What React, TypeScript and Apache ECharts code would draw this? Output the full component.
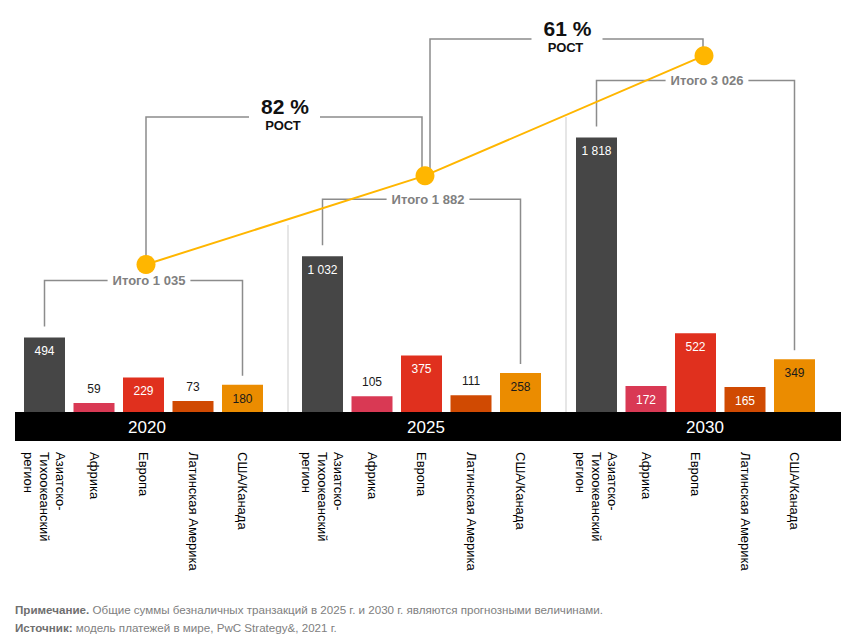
import React, { useEffect, useRef } from "react";
import * as echarts from "echarts";

const regions = ["Азиатско-\nТихоокеанский\nрегион", "Африка", "Европа", "Латинская Америка", "США/Канада"];
const years = ["2020", "2025", "2030"];
const values2020 = [494, 59, 229, 73, 180];
const values2025 = [1032, 105, 375, 111, 258];
const values2030 = [1818, 172, 522, 165, 349];
const totals = [1035, 1882, 3026];
const growth = ["82 %", "61 %"];
const growthWord = "РОСТ";
const totalWord = "Итого";
const noteBold = "Примечание.";
const noteText = " Общие суммы безналичных транзакций в 2025 г. и 2030 г. являются прогнозными величинами.";
const sourceBold = "Источник:";
const sourceText = " модель платежей в мире, PwC Strategy&, 2021 г.";

const colors = ["#464646", "#d93954", "#e0301e", "#d04a02", "#eb8c00"];
const FONT = '"Liberation Sans", Arial, sans-serif';
const valuesByYear = [values2020, values2025, values2030];

const fmt = (v: number) =>
  v >= 1000 ? `${Math.floor(v / 1000)} ${String(v % 1000).padStart(3, "0")}` : String(v);

const gridLefts = [19.75, 297.75, 571.75];

export default function App() {
  const ref = useRef<HTMLDivElement>(null);
  useEffect(() => {
    document.body.style.margin = "0";
    const chart = echarts.init(ref.current!, null, { renderer: "svg" });
    const grids: any[] = gridLefts.map((l) => ({
      left: l, top: 110, width: 247.5, height: 302, outerBoundsMode: "none", containLabel: false,
    }));
    grids.push({ left: 146, top: 6, width: 558, height: 367, outerBoundsMode: "none", containLabel: false });
    const xAxes: any[] = gridLefts.map((_, g) => ({
      type: "category", gridIndex: g, data: regions,
      axisLine: { show: false }, axisTick: { show: false },
      axisLabel: {
        rotate: -90, margin: 40, interval: 0, fontSize: 13, lineHeight: 16,
        color: "#000", fontFamily: FONT,
      },
    }));
    xAxes.push({ type: "category", gridIndex: 3, data: years, boundaryGap: false, show: false });
    const yAxes: any[] = gridLefts.map((_, g) => ({
      type: "value", gridIndex: g, min: 0, max: 2000, show: false, splitLine: { show: false },
    }));
    yAxes.push({ type: "value", gridIndex: 3, min: 0, max: 3500, show: false, splitLine: { show: false } });
    const series: any[] = valuesByYear.map((vals, g) => ({
      type: "bar", xAxisIndex: g, yAxisIndex: g, barWidth: 41,
      data: vals.map((v, i) => {
        const small = v < 150;
        return {
          value: v,
          itemStyle: { color: colors[i] },
          label: {
            show: true,
            position: small ? "top" : "insideTop",
            distance: 8,
            fontSize: 12,
            fontFamily: FONT,
            color: small || i === 4 ? "#1a1a1a" : "#ffffff",
            formatter: (p: any) => fmt(p.value),
          },
        };
      }),
    }));
    series.push({
      type: "line", xAxisIndex: 3, yAxisIndex: 3, data: totals, z: 10,
      symbol: "circle", symbolSize: 19,
      lineStyle: { color: "#ffb600", width: 2 },
      itemStyle: { color: "#ffb600" },
    });
    chart.setOption({
      animation: false,
      backgroundColor: "#ffffff",
      textStyle: { fontFamily: FONT },
      grid: grids, xAxis: xAxes, yAxis: yAxes, series,
    });

    const dot = totals.map((t, i) => chart.convertToPixel({ seriesIndex: 3 }, [i, t]) as number[]);
    const barPt = (g: number, c: number) =>
      chart.convertToPixel({ gridIndex: g }, [c, valuesByYear[g][c]]) as number[];
    const base = (chart.convertToPixel({ gridIndex: 0 }, [0, 0]) as number[])[1];

    const els: any[] = [];
    const stroke = { stroke: "#8c8c8c", lineWidth: 1.5, fill: null };
    // separators
    els.push({ type: "line", z: 1, shape: { x1: 288, y1: 225, x2: 288, y2: base }, style: { stroke: "#dedede", lineWidth: 1.5 } });
    els.push({ type: "line", z: 1, shape: { x1: 566, y1: 117, x2: 566, y2: base }, style: { stroke: "#dedede", lineWidth: 1.5 } });
    // band
    els.push({ type: "rect", z: 3, shape: { x: 15, y: base, width: 826, height: 29 }, style: { fill: "#000" } });
    years.forEach((y, i) => {
      els.push({
        type: "text", z: 4, x: dot[i][0] + 1, y: base + 15,
        style: { text: y, fill: "#fff", fontSize: 17, fontFamily: FONT, align: "center", verticalAlign: "middle" },
      });
    });
    // totals brackets
    for (let g = 0; g < 3; g++) {
      const a = barPt(g, 0);
      const u = barPt(g, 4);
      const yH = a[1] - 57;
      els.push({
        type: "polyline", z: 1,
        shape: { points: [[a[0], a[1] - 11], [a[0], yH], [u[0], yH], [u[0], u[1] - 9]] },
        style: stroke,
      });
      els.push({
        type: "text", z: 2, x: dot[g][0] + 3, y: yH,
        style: {
          text: `${totalWord} ${fmt(totals[g])}`, fill: "#808080", fontSize: 13, fontWeight: "bold",
          fontFamily: FONT, align: "center", verticalAlign: "middle",
          backgroundColor: "#fff", padding: [2, 5],
        },
      });
    }
    // growth brackets
    const gb = [
      { xL: dot[0][0], yL: dot[0][1], xR: dot[1][0] - 3, yR: dot[1][1], y: 117 },
      { xL: dot[1][0] + 5, yL: dot[1][1], xR: dot[2][0] - 1, yR: dot[2][1], y: 39 },
    ];
    gb.forEach((b, i) => {
      els.push({
        type: "polyline", z: 1,
        shape: { points: [[b.xL, b.yL], [b.xL, b.y], [b.xR, b.y], [b.xR, b.yR]] },
        style: stroke,
      });
      const mx = (b.xL + b.xR) / 2 + 1;
      els.push({ type: "rect", z: 2, shape: { x: mx - 36, y: b.y - 22, width: 71, height: 40 }, style: { fill: "#fff" } });
      els.push({
        type: "text", z: 3, x: mx, y: b.y - 11,
        style: { text: growth[i], fill: "#111", fontSize: 21, fontWeight: "bold", fontFamily: FONT, align: "center", verticalAlign: "middle" },
      });
      els.push({
        type: "text", z: 3, x: mx - 2, y: b.y + 8,
        style: { text: growthWord, fill: "#111", fontSize: 13, fontWeight: "bold", fontFamily: FONT, align: "center", verticalAlign: "middle" },
      });
    });
    // footnotes
    [[noteBold, noteText, 609], [sourceBold, sourceText, 627]].forEach(([b, t, y]) => {
      els.push({
        type: "text", z: 3, x: 15, y: y as number,
        style: {
          text: `{b|${b}}{r|${t}}`, verticalAlign: "middle", align: "left",
          rich: {
            b: { fontSize: 11.6, fontWeight: "bold", fill: "#6f6f6f", fontFamily: FONT },
            r: { fontSize: 11.6, fill: "#808080", fontFamily: FONT },
          },
        },
      });
    });
    chart.setOption({ graphic: { elements: els } });
    return () => chart.dispose();
  }, []);
  return <div ref={ref} style={{ width: 859, height: 642 }} />;
}
